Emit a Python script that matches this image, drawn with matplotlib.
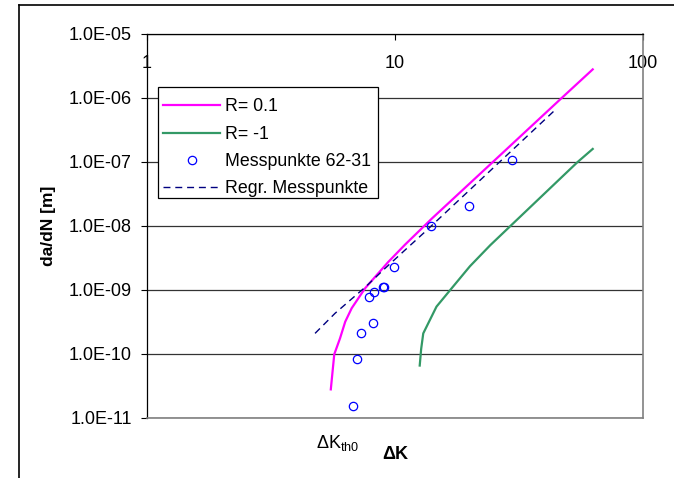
import matplotlib
matplotlib.use("Agg")
import matplotlib.pyplot as plt
from matplotlib.lines import Line2D
from matplotlib.patches import Rectangle

plt.rcParams['font.family'] = ['Liberation Sans', 'DejaVu Sans']
plt.rcParams['mathtext.fontset'] = 'custom'
plt.rcParams['mathtext.rm'] = 'Liberation Sans'

# R = 0.1 curve
dk_r01 = [5.51, 5.69, 6.0, 6.3, 6.69, 7.57, 9.40, 10.97, 14.06, 24.8, 47.0, 62.7]
dadn_r01 = [2.8e-11, 9.9e-11, 1.75e-10, 3.2e-10, 5.2e-10, 1.06e-9, 2.75e-9, 5.1e-9,
            1.3e-8, 1.0e-7, 1.0e-6, 2.8e-6]

# R = -1 curve
dk_rm1 = [12.58, 12.75, 13.0, 14.7, 16.7, 20.05, 24.2, 29.2, 54.5, 62.7]
dadn_rm1 = [6.6e-11, 1.2e-10, 2.1e-10, 5.5e-10, 1.0e-9, 2.35e-9, 5.0e-9, 1.0e-8,
            1.0e-7, 1.6e-7]

# measured points 62-31
dk_meas = [6.77, 7.03, 7.29, 8.15, 7.85, 8.23, 8.92, 9.03, 9.93, 14.0, 19.9, 29.6]
dadn_meas = [1.55e-11, 8.3e-11, 2.1e-10, 3.05e-10, 7.85e-10, 9.2e-10, 1.13e-9, 1.13e-9,
             2.31e-9, 1.0e-8, 2.05e-8, 1.07e-7]

# regression of measured points
dk_regr = [4.76, 5.73, 7.57, 9.12, 10.97, 13.21, 44.5]
dadn_regr = [2.1e-10, 4.32e-10, 1.10e-9, 2.18e-9, 4.2e-9, 8.1e-9, 6.65e-7]

x_ticks = [1, 10, 100]
x_labels = ['1', '10', '100']
y_ticks = [1e-11, 1e-10, 1e-9, 1e-8, 1e-7, 1e-6, 1e-5]
y_labels = ['1.0E-11', '1.0E-10', '1.0E-09', '1.0E-08', '1.0E-07', '1.0E-06', '1.0E-05']

fig = plt.figure(figsize=(6.74, 4.78), dpi=100)
ax = fig.add_axes([147 / 674, 60 / 478, 496 / 674, 384 / 478])

ax.plot(dk_r01, dadn_r01, color='#ff00ff', lw=1.6, label='R= 0.1', zorder=3)
ax.plot(dk_rm1, dadn_rm1, color='#339966', lw=1.6, label='R= -1', zorder=3)
ax.plot(dk_meas, dadn_meas, ls='none', marker='o', ms=6, mfc='none', mec='#0000ff',
        mew=0.9, label='Messpunkte 62-31', zorder=4)
ax.plot(dk_regr, dadn_regr, color='#000080', lw=1.0, dashes=(5, 3.5),
        label='Regr. Messpunkte', zorder=3)

ax.set_xscale('log')
ax.set_yscale('log')
ax.set_xlim(1, 100)
ax.set_ylim(1e-11, 1e-5)
ax.set_xticks(x_ticks, x_labels)
ax.set_yticks(y_ticks, y_labels)
ax.minorticks_off()

ax.xaxis.tick_top()
ax.tick_params(axis='x', direction='in', length=4, width=0.8, pad=-27, labelsize=13)
ax.tick_params(axis='y', direction='out', length=4, width=0.8, pad=7, labelsize=13)

ax.grid(axis='y', color='#333333', lw=0.9)
ax.set_axisbelow(True)
for side in ['left', 'top']:
    ax.spines[side].set_color('black')
    ax.spines[side].set_linewidth(0.9)
for side in ['right', 'bottom']:
    ax.spines[side].set_color('#808080')
    ax.spines[side].set_linewidth(1.2)

ax.set_ylabel('da/dN [m]', fontsize=12.5, fontweight='bold')
ax.yaxis.set_label_coords(-0.183, 0.5)
ax.set_xlabel('ΔK', fontsize=13, fontweight='bold')
ax.xaxis.set_label_coords(0.5, -0.072)

ax.text(0.3407, -0.0773, r'$\mathrm{ΔK}_{\mathrm{th0}}$', transform=ax.transAxes,
        ha='left', va='baseline', fontsize=13)

# legend box drawn separately so the entries can sit a little lower in it
ax.add_patch(Rectangle((11 / 496, 220 / 384), 220 / 496, 111 / 384, transform=ax.transAxes,
                       facecolor='white', edgecolor='black', lw=0.9, zorder=4.9))
ax.legend(loc='upper left', bbox_to_anchor=(0.0222, 0.846), borderaxespad=0,
          fontsize=12.8, handlelength=3.2, handletextpad=0.25, labelspacing=0.58,
          borderpad=0.3, numpoints=1, frameon=False)

# outer chart frame (left and top edges visible)
fig.add_artist(Line2D([19 / 674, 19 / 674], [0, 473 / 478], color='black', lw=1.2,
                      transform=fig.transFigure))
fig.add_artist(Line2D([19 / 674, 1], [473 / 478, 473 / 478], color='black', lw=1.2,
                      transform=fig.transFigure))

fig.savefig('out.png', dpi=100)
